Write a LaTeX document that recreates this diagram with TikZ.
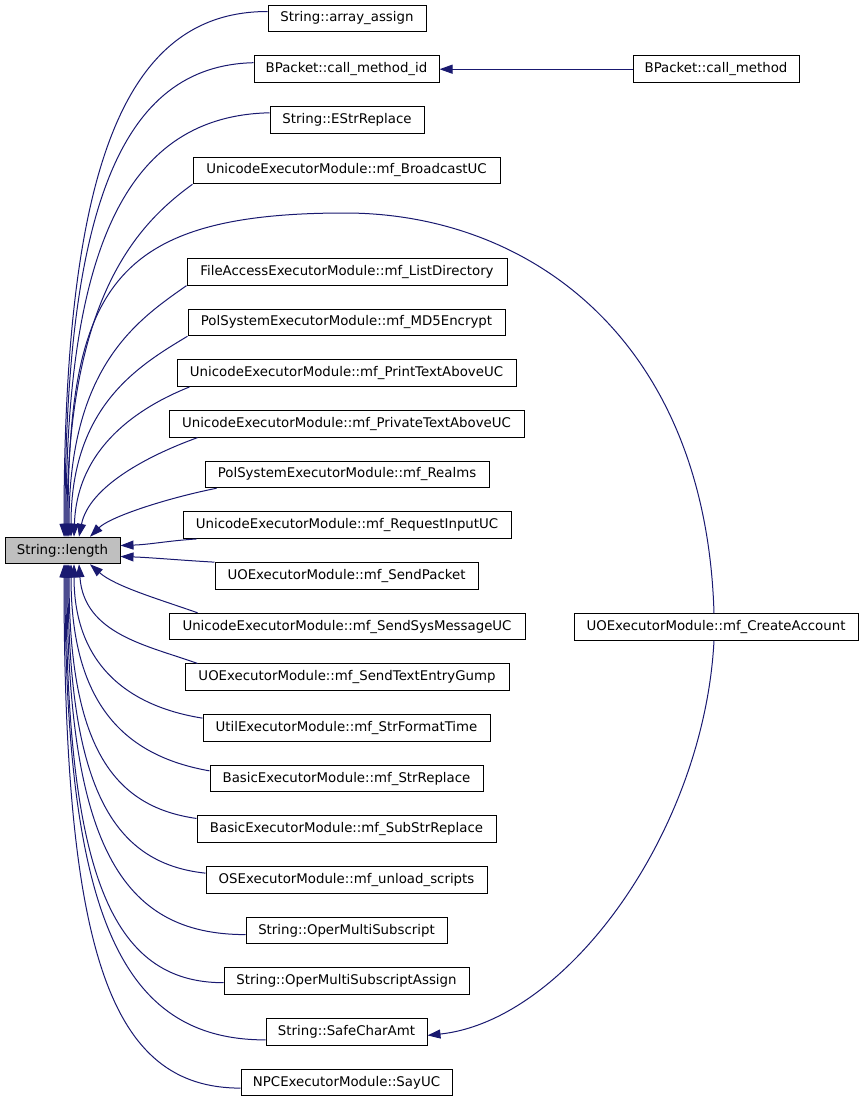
\documentclass[tikz,border=0pt]{standalone}
\usepackage{fontspec}
\setmainfont{DejaVu Sans}
\usetikzlibrary{arrows.meta}
\definecolor{edgeblue}{HTML}{191970}
\definecolor{boxgray}{HTML}{BFBFBF}
\begin{document}
\begin{tikzpicture}[x=1pt,y=-1pt,
  fn/.style={draw=black,fill=white,line width=1pt,inner sep=0pt,minimum height=26.5pt,
    font=\fontsize{13.33}{16}\selectfont},
  edge/.style={draw=edgeblue,line width=1pt,-{Triangle[length=13pt,width=9pt,fill=edgeblue]}}]
\fill[white] (0,0) rectangle (864,1101);
\useasboundingbox (0,0) rectangle (864,1101);
% nodes
\node[fn,fill=boxgray,minimum width=115pt] (len) at (62.5,550.5) {String::length};
\node[fn,minimum width=158pt] (aa)  at (347,18.5)   {String::array\_assign};
\node[fn,minimum width=185pt] (cmi) at (346.5,69.2) {BPacket::call\_method\_id};
\node[fn,minimum width=166pt] (cm)  at (716,69.2)   {BPacket::call\_method};
\node[fn,minimum width=154pt] (esr) at (347,119.8)  {String::EStrReplace};
\node[fn,minimum width=307pt] (bcu) at (346.5,170.5) {UnicodeExecutorModule::mf\_BroadcastUC};
\node[fn,minimum width=320pt] (lsd) at (347,271.9)  {FileAccessExecutorModule::mf\_ListDirectory};
\node[fn,minimum width=317pt] (md5) at (346.5,322.5) {PolSystemExecutorModule::mf\_MD5Encrypt};
\node[fn,minimum width=339pt] (ptu) at (346.5,373.2) {UnicodeExecutorModule::mf\_PrintTextAboveUC};
\node[fn,minimum width=355pt] (pvu) at (346.5,423.9) {UnicodeExecutorModule::mf\_PrivateTextAboveUC};
\node[fn,minimum width=284pt] (rlm) at (347,474.5)  {PolSystemExecutorModule::mf\_Realms};
\node[fn,minimum width=328pt] (riu) at (347,525.2)  {UnicodeExecutorModule::mf\_RequestInputUC};
\node[fn,minimum width=263pt] (spk) at (346.5,575.9) {UOExecutorModule::mf\_SendPacket};
\node[fn,minimum width=356pt] (ssm) at (347,626.5)  {UnicodeExecutorModule::mf\_SendSysMessageUC};
\node[fn,minimum width=284pt] (ca)  at (716,627)    {UOExecutorModule::mf\_CreateAccount};
\node[fn,minimum width=324pt] (ste) at (347,677.2)  {UOExecutorModule::mf\_SendTextEntryGump};
\node[fn,minimum width=287pt] (sft) at (346.5,727.9) {UtilExecutorModule::mf\_StrFormatTime};
\node[fn,minimum width=273pt] (srp) at (346.5,778.6) {BasicExecutorModule::mf\_StrReplace};
\node[fn,minimum width=299pt] (ssr) at (346.5,829.2) {BasicExecutorModule::mf\_SubStrReplace};
\node[fn,minimum width=281pt] (uls) at (346.5,879.9) {OSExecutorModule::mf\_unload\_scripts};
\node[fn,minimum width=201pt] (oms) at (346.5,930.6) {String::OperMultiSubscript};
\node[fn,minimum width=245pt] (oma) at (346.5,981.2) {String::OperMultiSubscriptAssign};
\node[fn,minimum width=161pt] (sca) at (346.5,1031.9) {String::SafeCharAmt};
\node[fn,minimum width=211pt] (say) at (346.5,1082.6) {NPCExecutorModule::SayUC};
% edges to String::length (top)
\draw[edge] ([yshift=7pt]aa.west) .. controls +(-143,0) and +(0,-370) .. ([xshift=1.5pt]len.north);
\draw[edge] ([yshift=6.5pt]cmi.west) .. controls +(-132,3) and +(0,-330) .. ([xshift=2.5pt]len.north);
\draw[edge] ([yshift=7pt]esr.west) .. controls +(-140,3) and +(0,-295) .. ([xshift=3.5pt]len.north);
\draw[edge] (bcu.south west) .. controls +(-55,40) and +(0,-240) .. ([xshift=4.5pt]len.north);
\draw[edge] ([xshift=-2pt]ca.north) .. controls (706,340) and (530,213) .. (345,213)
  .. controls (110,213) and (68,290) .. ([xshift=5.5pt]len.north);
\draw[edge] (lsd.south west) .. controls +(-50,35) and +(0,-170) .. ([xshift=6.5pt]len.north);
\draw[edge] (md5.south west) .. controls +(-50,30) and +(0,-130) .. ([xshift=8.5pt]len.north);
\draw[edge] ([xshift=13pt]ptu.south west) .. controls +(-50,20) and +(3,-90) .. ([xshift=11.5pt]len.north);
\draw[edge] ([xshift=29pt]pvu.south west) .. controls +(-50,18) and +(10,-50) .. ([xshift=16.5pt]len.north);
\draw[edge] ([xshift=12pt]rlm.south west) .. controls +(-50,10) and +(20,-20) .. ([xshift=27.5pt]len.north);
% right side
\draw[edge] ([xshift=14pt]riu.south west) .. controls +(-30,2) and +(30,-1) .. ([yshift=5pt]len.east);
\draw[edge] (spk.north west) .. controls +(-35,-2) and +(30,1) .. ([yshift=-6pt]len.east);
% bottom
\draw[edge] ([xshift=29pt]ssm.north west) .. controls +(-40,-14) and +(25,22) .. ([xshift=27.5pt]len.south);
\draw[edge] ([xshift=13pt]ste.north west) .. controls +(-50,-18) and +(5,70) .. ([xshift=16.5pt]len.south);
\draw[edge] ([yshift=-4pt]sft.north west) .. controls +(-75,-12) and +(0,100) .. ([xshift=11.5pt]len.south);
\draw[edge] ([yshift=-6pt]srp.north west) .. controls +(-85,-15) and +(0,140) .. ([xshift=8.5pt]len.south);
\draw[edge] ([yshift=-3pt]ssr.north west) .. controls +(-85,-12) and +(0,180) .. ([xshift=6.5pt]len.south);
\draw[edge] ([yshift=-7pt]uls.north west) .. controls +(-95,-10) and +(0,220) .. ([xshift=5.5pt]len.south);
\draw[edge] ([yshift=-4pt]oms.west) .. controls +(-125,0) and +(0,280) .. ([xshift=4.5pt]len.south);
\draw[edge] ([yshift=-1.5pt]oma.west) .. controls +(-112,0) and +(0,310) .. ([xshift=3.5pt]len.south);
\draw[edge] ([yshift=-8pt]sca.west) .. controls +(-145,0) and +(0,350) .. ([xshift=2.5pt]len.south);
\draw[edge] ([yshift=-5.5pt]say.west) .. controls +(-130,0) and +(0,390) .. ([xshift=1.5pt]len.south);
% other edges
\draw[edge] (cm.west) -- (cmi.east);
\draw[edge] ([xshift=-2pt]ca.south) .. controls +(-10,190) and +(140,-15) .. ([yshift=-3.5pt]sca.east);
\end{tikzpicture}
\end{document}
